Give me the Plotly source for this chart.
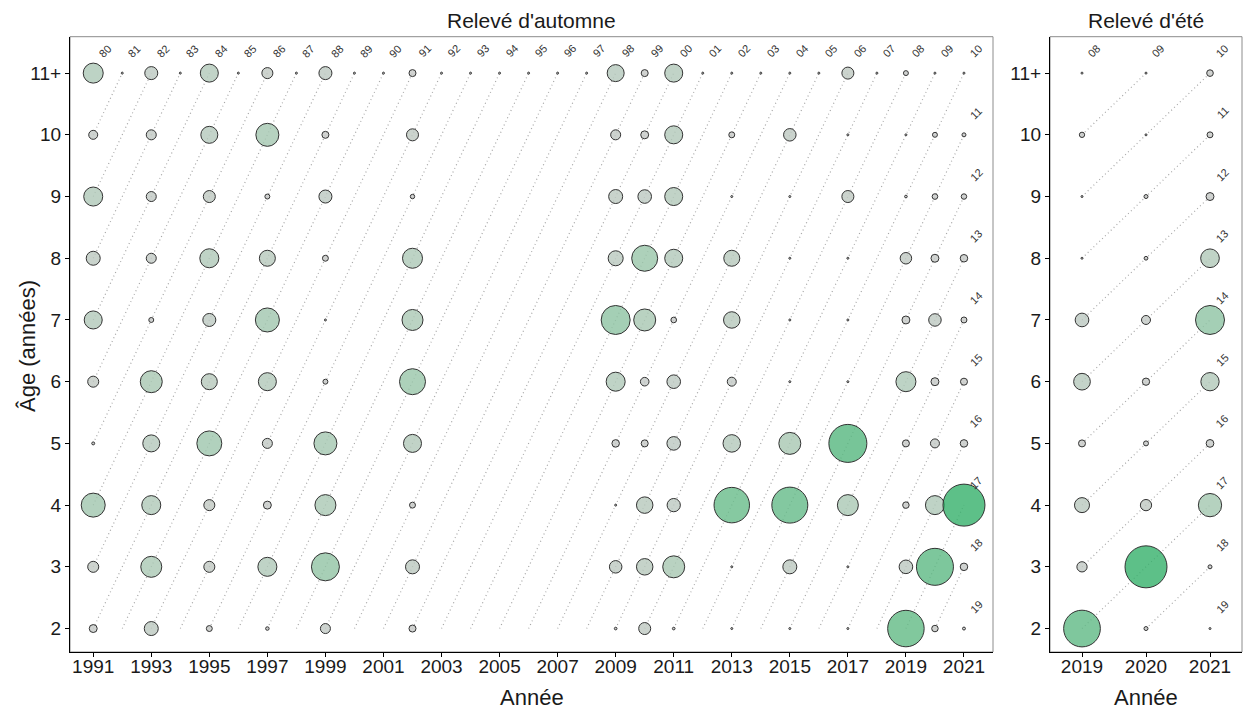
import plotly.graph_objects as go

# ---------------- données ----------------
ages = [2, 3, 4, 5, 6, 7, 8, 9, 10, 11]
age_labels = ["2", "3", "4", "5", "6", "7", "8", "9", "10", "11+"]

# Relevé d'automne (indice relatif d'abondance, 1 = maximum)
annees_automne = [1991, 1993, 1995, 1997, 1999, 2002, 2009, 2010, 2011, 2013, 2015, 2017, 2019, 2020, 2021]
automne_age2 = [0.036, 0.111, 0.020, 0.007, 0.057, 0.028, 0.004, 0.082, 0.004, 0.002, 0.002, 0.002, 0.755, 0.024, 0.005]
automne_age3 = [0.069, 0.250, 0.069, 0.205, 0.444, 0.111, 0.089, 0.154, 0.274, 0.002, 0.111, 0.002, 0.105, 0.776, 0.032]
automne_age4 = [0.327, 0.205, 0.069, 0.036, 0.250, 0.020, 0.002, 0.154, 0.100, 0.714, 0.735, 0.250, 0.024, 0.205, 1.000]
automne_age5 = [0.005, 0.164, 0.354, 0.057, 0.300, 0.184, 0.032, 0.028, 0.105, 0.174, 0.274, 0.819, 0.028, 0.046, 0.032]
automne_age6 = [0.069, 0.274, 0.145, 0.184, 0.014, 0.383, 0.205, 0.042, 0.105, 0.046, 0.002, 0.002, 0.227, 0.036, 0.028]
automne_age7 = [0.184, 0.014, 0.096, 0.327, 0.002, 0.250, 0.477, 0.274, 0.018, 0.154, 0.002, 0.002, 0.036, 0.089, 0.020]
automne_age8 = [0.111, 0.057, 0.205, 0.145, 0.020, 0.227, 0.128, 0.383, 0.184, 0.145, 0.002, 0.002, 0.075, 0.036, 0.032]
automne_age9 = [0.205, 0.057, 0.082, 0.014, 0.096, 0.011, 0.111, 0.105, 0.184, 0.002, 0.002, 0.082, 0.004, 0.018, 0.017]
automne_age10 = [0.046, 0.057, 0.164, 0.300, 0.028, 0.082, 0.057, 0.036, 0.184, 0.020, 0.089, 0.002, 0.002, 0.014, 0.009]
automne_age11 = [0.227, 0.096, 0.184, 0.069, 0.096, 0.028, 0.164, 0.028, 0.184, 0.002, 0.002, 0.082, 0.014, 0.002, 0.002]
# années sans relevé : valeur quasi nulle à 11+
annees_sans_releve = [1992, 1994, 1996, 1998, 2000, 2001, 2003, 2004, 2005, 2006, 2007, 2008, 2012, 2014, 2016, 2018]
sans_releve_age11 = [0.002] * len(annees_sans_releve)

# Relevé d'été
annees_ete = [2019, 2020, 2021]
ete_age2 = [0.764, 0.009, 0.002]
ete_age3 = [0.060, 1.000, 0.009]
ete_age4 = [0.128, 0.072, 0.308]
ete_age5 = [0.028, 0.014, 0.034]
ete_age6 = [0.158, 0.030, 0.190]
ete_age7 = [0.106, 0.046, 0.477]
ete_age8 = [0.002, 0.008, 0.198]
ete_age9 = [0.002, 0.009, 0.036]
ete_age10 = [0.016, 0.002, 0.020]
ete_age11 = [0.002, 0.002, 0.025]

automne = [automne_age2, automne_age3, automne_age4, automne_age5, automne_age6,
           automne_age7, automne_age8, automne_age9, automne_age10, automne_age11]
ete = [ete_age2, ete_age3, ete_age4, ete_age5, ete_age6,
       ete_age7, ete_age8, ete_age9, ete_age10, ete_age11]

# ---------------- style ----------------
W, H = 1244, 711
FONT = "Arial, 'Liberation Sans', sans-serif"
MAXD = 42
sizeref = 2.0 * 1.0 / MAXD ** 2
colorscale = [[0.0, "rgba(200,200,200,0.8)"], [0.25, "rgba(170,200,180,0.8)"],
              [0.5, "rgba(138,194,160,0.8)"], [0.75, "rgba(98,186,134,0.8)"],
              [1.0, "rgba(52,176,106,0.8)"]]

fig = go.Figure()


def build_points(years, table, extra_years=None, extra_vals=None):
    xs, ys, vs = [], [], []
    for j, yr in enumerate(years):
        for i, a in enumerate(ages):
            xs.append(yr); ys.append(a); vs.append(table[i][j])
    if extra_years:
        for yr, v in zip(extra_years, extra_vals):
            xs.append(yr); ys.append(11); vs.append(v)
    return xs, ys, vs


def cohort_lines(first, last):
    xs, ys, cohorts = [], [], []
    for c in range(first - 11, last - 1):
        y0 = max(first, c + 2)
        y1 = min(last, c + 11)
        cohorts.append(c)
        if y1 > y0:
            xs += [y0, y1, None]
            ys += [y0 - c, y1 - c, None]
    return xs, ys, cohorts


panels = [
    ("x", "y", annees_automne, automne, 1991, 2021, annees_sans_releve, sans_releve_age11),
    ("x2", "y2", annees_ete, ete, 2019, 2021, None, None),
]

annotations = []
for xa, ya, years, table, first, last, ex_y, ex_v in panels:
    lx, ly, cohorts = cohort_lines(first, last)
    fig.add_trace(go.Scatter(x=lx, y=ly, mode="lines", xaxis=xa, yaxis=ya,
                             line=dict(color="#a8a8a8", width=1.2, dash="1px,3px"),
                             hoverinfo="skip", showlegend=False))
    px, py, pv = build_points(years, table, ex_y, ex_v)
    fig.add_trace(go.Scatter(x=px, y=py, mode="markers", xaxis=xa, yaxis=ya, showlegend=False,
                             marker=dict(size=pv, sizemode="area", sizeref=sizeref, sizemin=1,
                                         opacity=1,
                                         color=pv, cmin=0, cmax=1, colorscale=colorscale,
                                         line=dict(color="#333333", width=1))))
    for c in cohorts:
        lab_x = min(c + 11, last)
        lab_y = lab_x - c
        annotations.append(dict(x=lab_x, y=lab_y, xref=xa, yref=ya, text=f"{c % 100:02d}",
                                showarrow=False, textangle=-45, xshift=12, yshift=22,
                                font=dict(family=FONT, size=11, color="#333333")))

# domains
xd1 = [70 / W, 993 / W]
xd2 = [1050 / W, 1242 / W]
yd = [1 - 652 / H, 1 - 36.7 / H]
yrange = [1.62, 11.59]

axis_common = dict(showgrid=False, zeroline=False, showline=True, linecolor="#000000", linewidth=1.2,
                   ticks="outside", ticklen=4, tickcolor="#000000",
                   tickfont=dict(family=FONT, size=19, color="#1a1a1a"))

fig.update_layout(
    width=W, height=H, margin=dict(l=0, r=0, t=0, b=0),
    paper_bgcolor="white", plot_bgcolor="white",
    xaxis=dict(domain=xd1, range=[1990.2, 2022.0], tickvals=list(range(1991, 2022, 2)),
               anchor="y", ticklabelstandoff=-7, **axis_common),
    yaxis=dict(domain=yd, range=yrange, tickvals=ages, ticktext=age_labels, anchor="x", **axis_common),
    xaxis2=dict(domain=xd2, range=[2018.5, 2021.5], tickvals=annees_ete, anchor="y2",
                ticklabelstandoff=-7, **axis_common),
    yaxis2=dict(domain=yd, range=yrange, tickvals=ages, ticktext=age_labels, anchor="x2", **axis_common),
    shapes=[
        dict(type="rect", xref="x domain", yref="y domain", x0=0, x1=1, y0=0, y1=1,
             line=dict(color="#8c8c8c", width=1), layer="below"),
        dict(type="rect", xref="x2 domain", yref="y2 domain", x0=0, x1=1, y0=0, y1=1,
             line=dict(color="#8c8c8c", width=1), layer="below"),
    ],
)

title_font = dict(family=FONT, size=21, color="#1a1a1a")
axis_title_font = dict(family=FONT, size=22, color="#1a1a1a")
annotations += [
    dict(text="Relevé d'automne", x=(xd1[0] + xd1[1]) / 2, y=1 - 20 / H, xref="paper", yref="paper",
         showarrow=False, font=title_font, xanchor="center", yanchor="middle"),
    dict(text="Relevé d'été", x=(xd2[0] + xd2[1]) / 2, y=1 - 20 / H, xref="paper", yref="paper",
         showarrow=False, font=title_font, xanchor="center", yanchor="middle"),
    dict(text="Année", x=(xd1[0] + xd1[1]) / 2, y=1 - 697 / H, xref="paper", yref="paper",
         showarrow=False, font=axis_title_font, xanchor="center", yanchor="middle"),
    dict(text="Année", x=(xd2[0] + xd2[1]) / 2, y=1 - 697 / H, xref="paper", yref="paper",
         showarrow=False, font=axis_title_font, xanchor="center", yanchor="middle"),
    dict(text="Âge (années)", x=27 / W, y=1 - 346 / H, xref="paper", yref="paper", textangle=-90,
         showarrow=False, font=axis_title_font, xanchor="center", yanchor="middle"),
]
fig.update_layout(annotations=annotations)

fig.write_html("out.html")
